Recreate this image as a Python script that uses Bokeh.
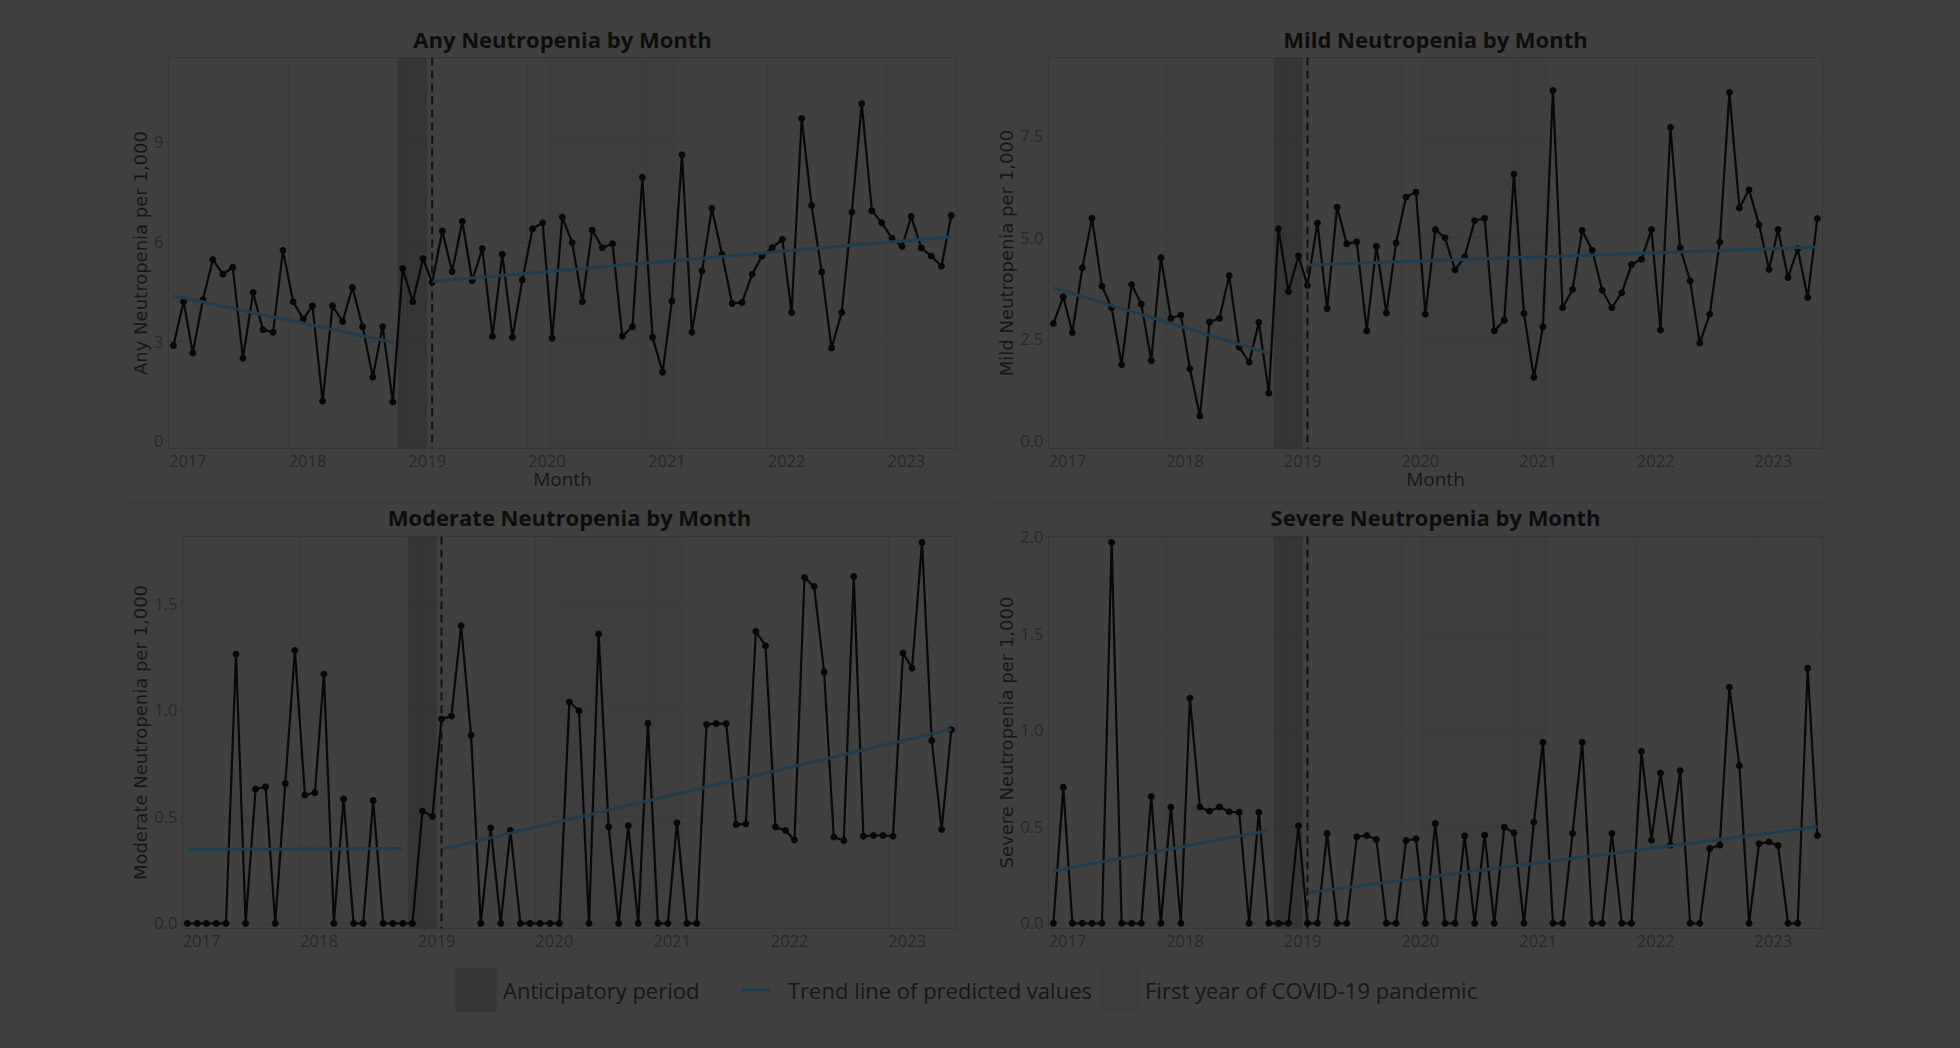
import pandas as pd
from bokeh.plotting import figure
from bokeh.layouts import column, row
from bokeh.models import (Range1d, FixedTicker, DatetimeTickFormatter, PrintfTickFormatter,
                          Span, BoxAnnotation, Legend, LegendItem, Spacer)
from bokeh.embed import file_html
from bokeh.resources import INLINE
from bokeh.core.properties import value

# ---------------- data ----------------
months = pd.date_range("2017-01-01", "2023-07-01", freq="MS")      # 79 monthly observations
month_mid = months + pd.Timedelta(days=15)

year_ticks = [f"{y}-01-01" for y in range(2017, 2024)]
x_limits = ("2017-01-01", "2023-08-01")
anticipatory_period = ("2018-12-01", "2019-03-01")
covid_first_year = ("2020-03-01", "2021-04-01")
pre_last_index = 22          # November 2018, last month of the pre-period trend
intervention_index = 26      # March 2019, start of post-period (dashed line)

any_rate = [2.88, 4.21, 2.66, 4.26, 5.47, 5.03, 5.24, 2.50, 4.48, 3.36,
            3.28, 5.75, 4.20, 3.68, 4.08, 1.21, 4.08, 3.61, 4.63, 3.45,
            1.93, 3.45, 1.18, 5.20, 4.20, 5.50, 4.78, 6.33, 5.11, 6.62,
            4.84, 5.80, 3.16, 5.63, 3.13, 4.86, 6.40, 6.58, 3.10, 6.75,
            5.98, 4.20, 6.36, 5.83, 5.95, 3.16, 3.45, 7.95, 3.13, 2.08,
            4.22, 8.63, 3.28, 5.13, 7.01, 5.63, 4.15, 4.18, 5.03, 5.58,
            5.83, 6.08, 3.88, 9.72, 7.10, 5.10, 2.81, 3.88, 6.90, 10.17,
            6.94, 6.58, 6.12, 5.87, 6.77, 5.82, 5.58, 5.27, 6.80]
any_trend_pre = [4.38, 2.98]
any_trend_post = [4.81, 6.16]

mild_rate = [2.89, 3.55, 2.67, 4.26, 5.48, 3.81, 3.28, 1.88, 3.85, 3.37,
             1.98, 4.51, 3.02, 3.10, 1.78, 0.62, 2.93, 3.02, 4.07, 2.31,
             1.94, 2.92, 1.18, 5.22, 3.68, 4.55, 3.83, 5.36, 3.26, 5.75,
             4.85, 4.90, 2.71, 4.79, 3.15, 4.87, 6.00, 6.12, 3.12, 5.20,
             5.00, 4.21, 4.53, 5.42, 5.48, 2.71, 2.97, 6.56, 3.14, 1.57,
             2.81, 8.62, 3.28, 3.73, 5.18, 4.69, 3.71, 3.28, 3.65, 4.34,
             4.47, 5.20, 2.73, 7.71, 4.75, 3.94, 2.41, 3.12, 4.89, 8.57,
             5.73, 6.18, 5.32, 4.22, 5.20, 4.02, 4.73, 3.53, 5.47]
mild_trend_pre = [3.77, 2.16]
mild_trend_post = [4.33, 4.77]

moderate_rate = [0, 0, 0, 0, 0, 1.264, 0, 0.631, 0.641, 0,
                 0.656, 1.281, 0.602, 0.613, 1.170, 0, 0.584, 0, 0, 0.577,
                 0, 0, 0, 0, 0.527, 0.502, 0.959, 0.973, 1.397, 0.883,
                 0, 0.448, 0, 0.436, 0, 0, 0, 0, 0, 1.039,
                 0.998, 0, 1.358, 0.453, 0, 0.458, 0, 0.939, 0, 0,
                 0.472, 0, 0, 0.934, 0.9375, 0.9375, 0.464, 0.467, 1.370, 1.303,
                 0.452, 0.436, 0.391, 1.623, 1.581, 1.180, 0.405, 0.389, 1.628, 0.409,
                 0.4125, 0.4125, 0.409, 1.269, 1.198, 1.788, 0.858, 0.441, 0.909]
moderate_trend_pre = [0.347, 0.352]
moderate_trend_post = [0.347, 0.911]

severe_rate = [0, 0.705, 0, 0, 0, 0, 1.974, 0, 0, 0,
               0.657, 0, 0.602, 0, 1.167, 0.603, 0.581, 0.603, 0.578, 0.576,
               0, 0.576, 0, 0, 0, 0.505, 0, 0, 0.466, 0,
               0, 0.448, 0.455, 0.434, 0, 0, 0.429, 0.438, 0, 0.517,
               0, 0, 0.453, 0, 0.457, 0, 0.498, 0.469, 0, 0.524,
               0.938, 0, 0, 0.466, 0.938, 0, 0, 0.466, 0, 0,
               0.891, 0.431, 0.779, 0.405, 0.791, 0, 0, 0.388, 0.405, 1.224,
               0.817, 0, 0.412, 0.422, 0.403, 0, 0, 1.322, 0.455]
severe_trend_pre = [0.271, 0.481]
severe_trend_post = [0.159, 0.500]

# ---------------- styling ----------------
BG = "#404040"
BORDER = "#363636"
GRID = "#3b3b3b"
SEP = "#383838"
TREND = "#1f3d4f"
INK = "#080808"
TITLE_C = "#0d0d0d"
LABEL_C = "#161616"
TICK_C = "#282828"
ANT_FILL, ANT_ALPHA = "#000000", 0.17
COV_FILL, COV_ALPHA = "#2e2838", 0.10
FONT = "Open Sans"
YFONT = "DejaVu Sans"
YEAR_LABEL_SHIFT = pd.Timedelta(days=59)   # year labels are drawn left-aligned at each Jan 1


def ms(s):
    return pd.Timestamp(s).value // 10**6


def make_panel(title, ylabel, values, trend_pre, trend_post, yr, yticks, fmt,
               width, height, left, right, top, bottom, xlabel, title_standoff):
    p = figure(width=width, height=height, output_backend="svg", toolbar_location=None,
               x_axis_type="datetime",
               x_range=Range1d(ms(x_limits[0]), ms(x_limits[1])),
               y_range=Range1d(*yr),
               min_border_left=left, min_border_right=right,
               min_border_top=top, min_border_bottom=bottom,
               background_fill_color=BG, border_fill_color=BG,
               outline_line_color=BORDER, outline_line_width=1)
    p.title.text = title
    p.title.align = "center"
    p.title.text_font = FONT
    p.title.text_font_size = "22px"
    p.title.text_font_style = "bold"
    p.title.text_color = TITLE_C
    p.title.standoff = title_standoff

    # gridlines at each Jan 1, labels placed so that they start at the gridline
    p.xgrid.ticker = FixedTicker(ticks=[ms(t) for t in year_ticks])
    p.xaxis.ticker = FixedTicker(ticks=[ms(pd.Timestamp(t) + YEAR_LABEL_SHIFT) for t in year_ticks])
    p.xaxis.formatter = DatetimeTickFormatter(years="%Y", months="%Y", days="%Y",
                                              hours="%Y", minutes="%Y", seconds="%Y",
                                              milliseconds="%Y", microseconds="%Y")
    yt = FixedTicker(ticks=yticks)
    p.yaxis.ticker = yt
    p.ygrid.ticker = yt
    p.yaxis.formatter = PrintfTickFormatter(format=fmt)

    for ax in (p.xaxis, p.yaxis):
        ax.axis_line_color = None
        ax.major_tick_line_color = BORDER
        ax.major_tick_out = 3
        ax.major_tick_in = 0
        ax.minor_tick_line_color = None
        ax.major_label_text_font = FONT
        ax.major_label_text_font_size = "16.5px"
        ax.major_label_text_color = TICK_C
    p.xaxis.major_tick_line_color = None
    p.xaxis.major_label_standoff = 3
    p.yaxis.major_label_standoff = 2

    if xlabel:
        p.xaxis.axis_label = xlabel
        p.xaxis.axis_label_text_font = FONT
        p.xaxis.axis_label_text_font_size = "19px"
        p.xaxis.axis_label_text_font_style = "normal"
        p.xaxis.axis_label_text_color = LABEL_C
        p.xaxis.axis_label_standoff = -4
    p.yaxis.axis_label = ylabel
    p.yaxis.axis_label_text_font = YFONT
    p.yaxis.axis_label_text_font_size = "18px"
    p.yaxis.axis_label_text_font_style = "normal"
    p.yaxis.axis_label_text_color = LABEL_C
    p.yaxis.axis_label_standoff = 0

    p.grid.grid_line_color = GRID
    p.grid.grid_line_width = 1

    p.add_layout(BoxAnnotation(left=ms(anticipatory_period[0]), right=ms(anticipatory_period[1]),
                               fill_color=ANT_FILL, fill_alpha=ANT_ALPHA, line_color=None,
                               level="underlay"))
    p.add_layout(BoxAnnotation(left=ms(covid_first_year[0]), right=ms(covid_first_year[1]),
                               fill_color=COV_FILL, fill_alpha=COV_ALPHA, line_color=None,
                               level="underlay"))

    p.line(month_mid, values, line_color=INK, line_width=2.2)
    p.scatter(month_mid, values, size=6, fill_color=INK, line_color=INK)

    p.line([month_mid[0], month_mid[pre_last_index]], trend_pre, line_color=TREND, line_width=3)
    p.line([month_mid[intervention_index], month_mid[-1]], trend_post, line_color=TREND, line_width=3)

    p.add_layout(Span(location=ms(month_mid[intervention_index]), dimension="height",
                      line_color="#111111", line_width=2, line_dash="8 5"))
    return p


pA = make_panel("Any Neutropenia by Month", "Any Neutropenia per 1,000", any_rate,
                any_trend_pre, any_trend_post, (-0.22, 11.56), [0, 3, 6, 9], "%d",
                990, 494, 168, 34, 57, 44, "Month", 8)
pB = make_panel("Mild Neutropenia by Month", "Mild Neutropenia per 1,000", mild_rate,
                mild_trend_pre, mild_trend_post, (-0.18, 9.43), [0, 2.5, 5, 7.5], "%.1f",
                962, 494, 58, 130, 57, 44, "Month", 8)
pC = make_panel("Moderate Neutropenia by Month", "Moderate Neutropenia per 1,000", moderate_rate,
                moderate_trend_pre, moderate_trend_post, (-0.024, 1.816), [0, 0.5, 1.0, 1.5], "%.1f",
                990, 460, 182, 34, 40, 27, None, 9)
pD = make_panel("Severe Neutropenia by Month", "Severe Neutropenia per 1,000", severe_rate,
                severe_trend_pre, severe_trend_post, (-0.027, 2.005), [0, 0.5, 1.0, 1.5, 2.0], "%.1f",
                962, 460, 58, 130, 40, 27, None, 9)

# separator lines between the two rows of charts
line_style = {"background-color": SEP, "position": "relative", "top": "8px", "z-index": "5"}
sep = row(Spacer(width=130, height=1),
          Spacer(width=830, height=1, styles=line_style),
          Spacer(width=33, height=1),
          Spacer(width=833, height=1, styles=line_style),
          Spacer(width=126, height=1))

# legend figure
lf = figure(width=1952, height=90, output_backend="svg", toolbar_location=None,
            x_range=Range1d(0, 1), y_range=Range1d(0, 1),
            min_border=0, background_fill_color=BG, border_fill_color=BG,
            outline_line_color=None)
lf.axis.visible = False
lf.grid.visible = False
r_ant = lf.quad(left=[ms(anticipatory_period[0])], right=[ms(anticipatory_period[1])],
                bottom=[0], top=[1], fill_color=ANT_FILL, fill_alpha=ANT_ALPHA, line_color=None,
                visible=False)
r_trend = lf.line([month_mid[0], month_mid[pre_last_index]], any_trend_pre,
                  line_color=TREND, line_width=3, visible=False)
r_cov = lf.quad(left=[ms(covid_first_year[0])], right=[ms(covid_first_year[1])],
                bottom=[0], top=[1], fill_color=COV_FILL, fill_alpha=COV_ALPHA, line_color=None,
                visible=False)

legend_specs = [
    ("Anticipatory period", r_ant, 450, 51, 2),
    ("Trend line of predicted values", r_trend, 741, 29, 18),
    ("First year of COVID-19 pandemic", r_cov, 1094, 51, 0),
]
for label, rend, lx, gw, so in legend_specs:
    lg = Legend(items=[LegendItem(label=label, renderers=[rend])], location=(lx, 28),
                glyph_width=gw, glyph_height=55, label_standoff=so,
                padding=0, margin=0, spacing=0, border_line_color=None,
                background_fill_alpha=0, click_policy="none",
                label_text_font=FONT, label_text_font_size="22px", label_text_color=LABEL_C)
    lf.add_layout(lg)

layout = column(row(pA, pB), sep, row(pC, pD), lf)

html = file_html(layout, INLINE, title="Neutropenia by Month")
html = html.replace("<head>", "<head>\n<style>html, body { background-color: #404040; }</style>", 1)
open("out.html", "w").write(html)
